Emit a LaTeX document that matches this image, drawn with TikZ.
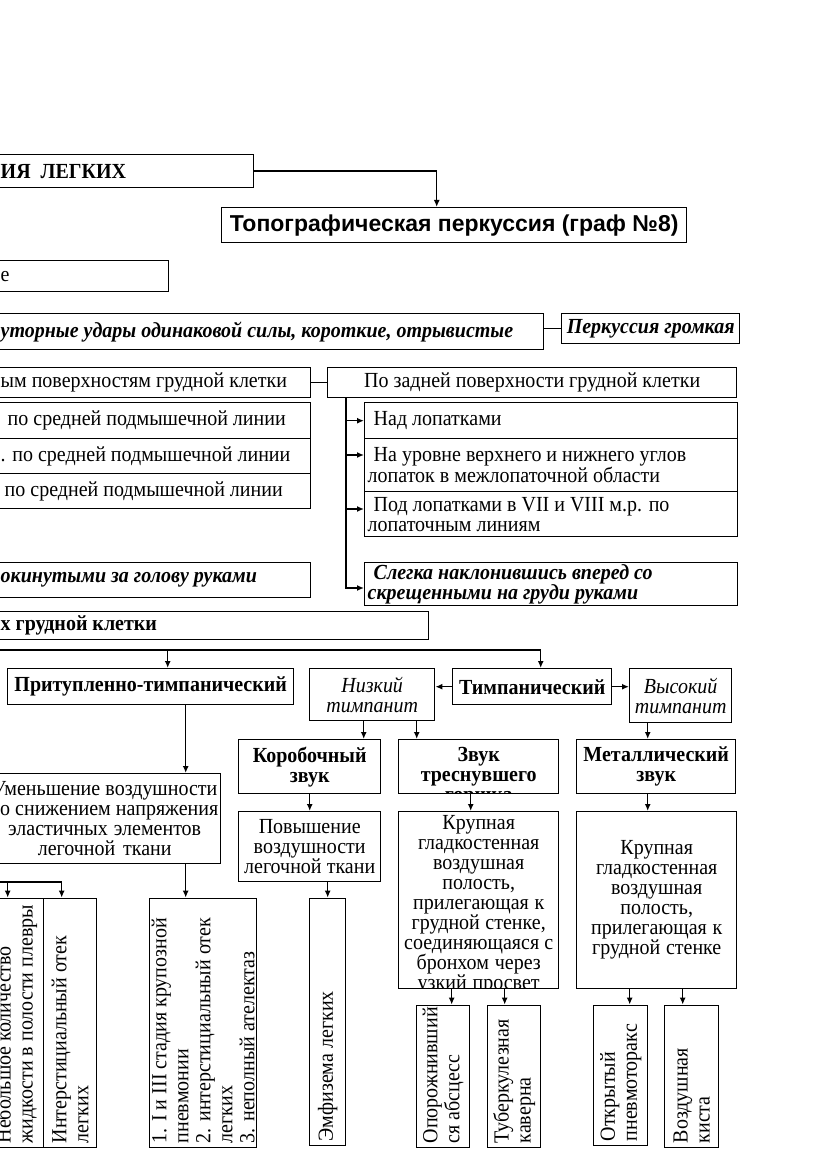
\documentclass[tikz,border=0pt]{standalone}
\usepackage{fontspec}
\setmainfont{Liberation Serif}[FakeStretch=0.93]
\newfontfamily\arialfnt{Liberation Sans}
\usetikzlibrary{arrows.meta}
\newcommand{\fsz}{\fontsize{21.5}{20}\selectfont}

\begin{document}
\begin{tikzpicture}[x=1pt,y=-1pt, line width=1.4pt, >={Latex[length=7pt,width=6pt]},
  box/.style={draw, line width=1.4pt, inner xsep=3pt, inner ysep=1pt, align=center, font=\fsz,
    execute at begin node={\spaceskip=0pt\xspaceskip=0pt}},
  bbox/.style={box, font=\fsz\bfseries},
  ibox/.style={box, font=\fsz\itshape},
  bibox/.style={box, font=\fsz\bfseries\itshape},
  lcut/.style={anchor=north west, align=left, inner xsep=8pt},
  nw/.style={anchor=north west},
  rot/.style={box, rotate=90, anchor=north west, align=left, inner xsep=4pt, font=\fontsize{21.5}{22}\selectfont}]

\useasboundingbox (0,0) rectangle (831,1174);
\fill[white] (0,0) rectangle (831,1174);
\clip (0,0) rectangle (831,1174);

% верхняя часть
\node[bbox, lcut, minimum width=261, minimum height=33, text width=245] (perk) at (-8,154) {ИЯ~~ЛЕГКИХ};
\node[box, nw, minimum width=465, minimum height=35, font=\arialfnt\bfseries\fontsize{23}{24}\selectfont] (topo) at (221,207) {Топографическая перкуссия (граф №8)};
\node[box, lcut, minimum width=176, minimum height=31, text width=160] (vid) at (-8,260) {е};
\node[bibox, lcut, minimum width=551, minimum height=36, text width=535] (udary) at (-8,313) {уторные удары одинаковой силы, короткие, отрывистые};
\node[bibox, nw, minimum width=178, minimum height=30] (gromk) at (561,313) {Перкуссия громкая};
\node[box, lcut, minimum width=318, minimum height=30, text width=302] (bok) at (-8,367) {ым поверхностям грудной клетки};
\node[box, nw, minimum width=409, minimum height=30] (zadn) at (327,367) {По задней поверхности грудной клетки};

% боковые и задняя поверхности
\node[box, lcut, minimum width=318, minimum height=36, text width=302] (l1) at (-8,402) {\hspace*{7pt}по средней подмышечной линии};
\node[box, lcut, minimum width=318, minimum height=35, text width=302] (l2) at (-8,438) {. по средней подмышечной линии};
\node[box, lcut, minimum width=318, minimum height=35, text width=302] (l3) at (-8,473) {\hspace*{4pt}по средней подмышечной линии};
\node[box, nw, minimum width=373, minimum height=36, text width=367, align=left] (r1) at (364,402) {\hspace*{6pt}Над лопатками};
\node[box, nw, minimum width=373, minimum height=53, text width=367, align=left] (r2) at (364,438) {\hspace*{6pt}На уровне верхнего и нижнего углов\\лопаток в межлопаточной области};
\node[box, nw, minimum width=373, minimum height=45, text width=367, align=left] (r3) at (364,491) {\hspace*{6pt}Под лопатками в VII и VIII м.р. по\\лопаточным линиям};
\node[bibox, nw, minimum width=373, minimum height=43, text width=367, align=left] (r4) at (364,562) {\hspace*{6pt}Слегка наклонившись вперед со\\скрещенными на груди руками};
\node[bibox, lcut, minimum width=318, minimum height=35, text width=302] (lk) at (-8,562) {окинутыми за голову руками};
\node[bbox, lcut, minimum width=436, minimum height=28, text width=420] (gk) at (-8,611) {х грудной клетки};

% звуки
\node[bbox, nw, minimum width=286, minimum height=36] (prit) at (7,668) {Притупленно-тимпанический};
\node[ibox, nw, minimum width=125, minimum height=52, text width=119] (nizk) at (309,668) {Низкий\\тимпанит};
\node[bbox, nw, minimum width=159, minimum height=36] (timp) at (452,668) {Тимпанический};
\node[ibox, nw, minimum width=102, minimum height=54, text width=96] (vys) at (629,668) {Высокий\\тимпанит};
\node[bbox, nw, minimum width=142, minimum height=54, text width=136] (korob) at (238,739) {Коробочный\\звук};
\begin{scope}
  \clip (397,738) rectangle (559,793.7);
  \node[bbox, nw, minimum width=160, text width=154, text height=19, text depth=29, inner ysep=3pt] (tresn) at (398,739) {Звук\\треснувшего\\горшка};
\end{scope}
\node[bbox, nw, minimum width=159, minimum height=54, text width=153] (metal) at (576,739) {Металлический\\звук};
\node[box, nw, minimum width=230, minimum height=90, text width=232, inner xsep=0pt] (umen) at (-12,773) {Уменьшение воздушности\\\hphantom{с}о снижением напряжения\\эластичных элементов\\легочной ткани};
\node[box, nw, minimum width=142, minimum height=70, text width=136] (povysh) at (238,811) {Повышение\\воздушности\\легочной ткани};
\begin{scope}
  \clip (397,810) rectangle (559,988.7);
  \node[box, nw, minimum width=160, text width=154, text height=15, text depth=156, inner ysep=3pt] (krup1) at (398,811) {Крупная\\гладкостенная\\воздушная\\полость,\\прилегающая к\\грудной стенке,\\соединяющаяся с\\бронхом через\\узкий просвет};
\end{scope}
\node[box, nw, minimum width=160, minimum height=177, text width=154] (krup2) at (576,811) {Крупная\\гладкостенная\\воздушная\\полость,\\прилегающая к\\грудной стенке};

% нижний ряд
\node[rot, minimum width=249, minimum height=55, text width=241] (neb) at (-12,1148) {Небольшое количество\\жидкости в полости плевры};
\node[rot, minimum width=249, minimum height=53, text width=241] (inter) at (43,1148) {Интерстициальный отек\\легких};
\node[rot, minimum width=249, minimum height=107, text width=241] (stad) at (149,1148) {1. I и III стадия крупозной\\пневмонии\\2. интерстициальный отек\\легких\\3. неполный ателектаз};
\node[rot, minimum width=247, minimum height=36, text width=239] (emf) at (309,1146) {Эмфизема легких};
\node[rot, minimum width=142, minimum height=53, text width=134] (opor) at (416,1148) {Опорожнивший\\ся абсцесс};
\node[rot, minimum width=142, minimum height=53, text width=134] (tub) at (487,1148) {Туберкулезная\\каверна};
\node[rot, minimum width=140, minimum height=54, text width=132] (otkr) at (593,1146) {Открытый\\пневмоторакс};
\node[rot, minimum width=142, minimum height=54, text width=134] (vozd) at (664,1148) {Воздушная\\киста};

% связи
\draw[->] (perk.east) -| ([xshift=-17.5pt]topo.north);
\draw (udary.east |- gromk.west) -- (gromk.west);
\draw (bok.east) -- (zadn.west);
\coordinate (tr) at ([xshift=19pt]zadn.south west);
\coordinate (a2) at ([yshift=-17pt]r2.north west);
\coordinate (a3) at ([yshift=-18pt]r3.north west);
\coordinate (a4) at ([yshift=-26pt]r4.north west);
\draw[->] (tr |- r1.west) -- (r1.west);
\draw[->] (tr |- a2) -- (a2);
\draw[->] (tr |- a3) -- (a3);
\draw[->] (tr) |- (a4);

\coordinate (bus) at (-10,650);
\coordinate (pt) at ([xshift=17pt]prit.north);
\coordinate (tt) at ([xshift=8.5pt]timp.north);
\draw[->] (bus) -| (tt);
\draw[->] (bus -| pt) -- (pt);
\draw[->] (timp.west) -- (timp.west -| nizk.east);
\draw[->] (timp.east) -- (timp.east -| vys.west);
\coordinate (nk1) at ([xshift=-8.5pt]nizk.south);
\coordinate (nk2) at ([xshift=44.5pt]nizk.south);
\draw[->] (nk1) -- (nk1 |- korob.north);
\draw[->] (nk2) -- (nk2 |- tresn.north);
\coordinate (vs) at ([xshift=-33pt]vys.south);
\draw[->] (vs) -- (vs |- metal.north);
\draw[->] (metal.south -| vs) -- (krup2.north -| vs);
\draw[->] (korob.south) -- (povysh.north);
\coordinate (ts) at ([xshift=-8pt]tresn.south);
\draw[->] (ts) -- (ts |- krup1.north);
\coordinate (ps) at ([xshift=35pt]prit.south);
\draw[->] (ps) -- (ps |- umen.north);
\draw[->] (umen.south -| ps) -- (ps |- stad.east);
\draw[->] (povysh.south -| emf.east) -- (emf.east);

\coordinate (k1) at ([xshift=8.5pt]opor.east);
\coordinate (k2) at ([xshift=-9.5pt]tub.east);
\coordinate (k3) at ([xshift=9pt]otkr.east);
\coordinate (k4) at ([xshift=-9pt]vozd.east);
\draw[->] (k1 |- krup1.south) -- (k1);
\draw[->] (k2 |- krup1.south) -- (k2);
\draw[->] (k3 |- krup2.south) -- (k3);
\draw[->] (k4 |- krup2.south) -- (k4);

\coordinate (lb) at (-10,882);
\coordinate (n1) at ([xshift=-8.5pt]neb.east);
\coordinate (n2) at ([xshift=-8.5pt]inter.east);
\draw[->] (lb) -| (n2);
\draw[->] (lb -| n1) -- (n1);
\end{tikzpicture}
\end{document}
